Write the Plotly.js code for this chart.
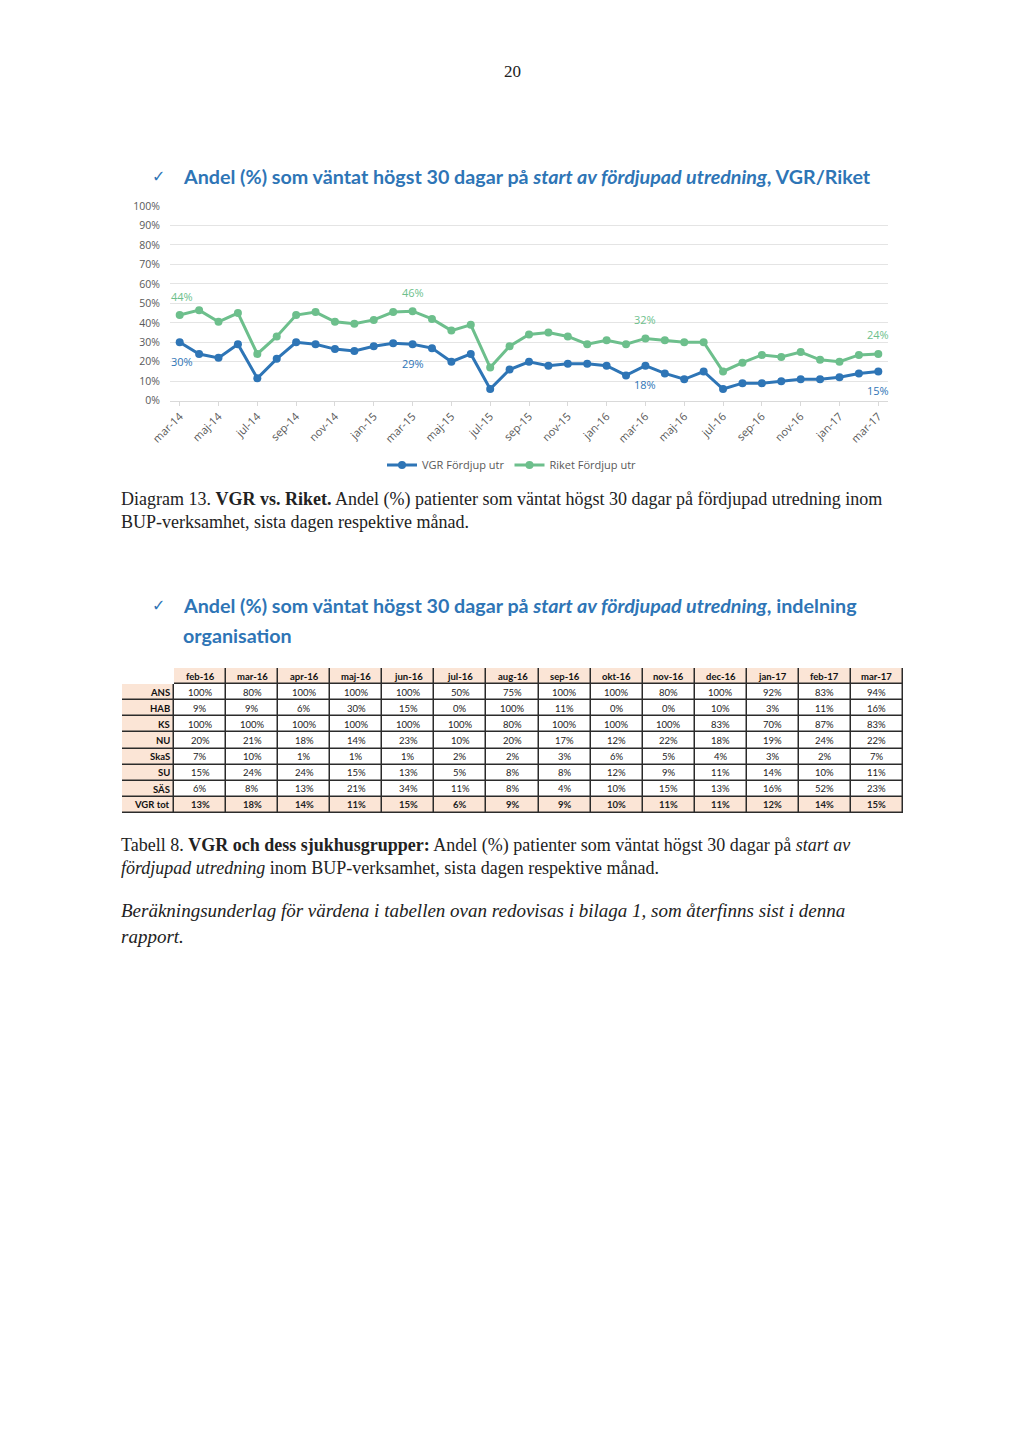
<!DOCTYPE html>
<html>
<head>
<meta charset="utf-8">
<script src="https://cdn.plot.ly/plotly-3.0.1.min.js"></script>
<style>
  html, body { margin: 0; padding: 0; background: #ffffff; }
  #chart { width: 1024px; height: 1448px; }
</style>
</head>
<body>
<div id="chart"></div>
<script>
// ---------- Data ----------
const months = [
  'mar-14','apr-14','maj-14','jun-14','jul-14','aug-14','sep-14','okt-14','nov-14','dec-14',
  'jan-15','feb-15','mar-15','apr-15','maj-15','jun-15','jul-15','aug-15','sep-15','okt-15',
  'nov-15','dec-15','jan-16','feb-16','mar-16','apr-16','maj-16','jun-16','jul-16','aug-16',
  'sep-16','okt-16','nov-16','dec-16','jan-17','feb-17','mar-17'
];
const vgrFordjup = [
  30, 24, 22, 29, 11.5, 21.5, 30, 29, 26.5, 25.5,
  28, 29.5, 29, 27, 20, 24, 6, 16, 20, 18,
  19, 19, 18, 13, 18, 14, 11, 15, 6, 9,
  9, 10, 11, 11, 12, 14, 15
];
const riketFordjup = [
  44, 46.5, 40.5, 45, 24, 33, 44, 45.5, 40.5, 39.5,
  41.5, 45.5, 46, 42, 36, 39, 17, 28, 34, 35,
  33, 29, 31, 29, 32, 31, 30, 30, 15, 19.5,
  23.5, 22.5, 25, 21, 20, 23.5, 24
];
// indices of months that carry a data label
const labelIdx = [0, 12, 24, 36];
const vgrLabels = ['30%', '29%', '18%', '15%'];
const riketLabels = ['44%', '46%', '32%', '24%'];
const yTicks = [0, 10, 20, 30, 40, 50, 60, 70, 80, 90, 100];
const xTickLabels = months.filter((m, i) => i % 2 === 0);

// Table
const tableMonths = ['feb-16','mar-16','apr-16','maj-16','jun-16','jul-16','aug-16','sep-16','okt-16','nov-16','dec-16','jan-17','feb-17','mar-17'];
const tableRows = ['ANS','HAB','KS','NU','SkaS','SU','SÄS','VGR tot'];
const rowANS  = [100, 80, 100, 100, 100, 50, 75, 100, 100, 80, 100, 92, 83, 94];
const rowHAB  = [9, 9, 6, 30, 15, 0, 100, 11, 0, 0, 10, 3, 11, 16];
const rowKS   = [100, 100, 100, 100, 100, 100, 80, 100, 100, 100, 83, 70, 87, 83];
const rowNU   = [20, 21, 18, 14, 23, 10, 20, 17, 12, 22, 18, 19, 24, 22];
const rowSkaS = [7, 10, 1, 1, 1, 2, 2, 3, 6, 5, 4, 3, 2, 7];
const rowSU   = [15, 24, 24, 15, 13, 5, 8, 8, 12, 9, 11, 14, 10, 11];
const rowSAS  = [6, 8, 13, 21, 34, 11, 8, 4, 10, 15, 13, 16, 52, 23];
const rowVGR  = [13, 18, 14, 11, 15, 6, 9, 9, 10, 11, 11, 12, 14, 15];

// ---------- Helpers ----------
const W = 1024, H = 1448;
const px = x => x / W;
const py = y => 1 - y / H;

const BLUE = '#2E75B6';
const GREEN = '#6DBF8C';
const HEAD = '#2E75B6';
const PEACH = '#FBE5D6';
const BORDER = '#2b2b2b';

const traces = [
  {
    type: 'scatter', mode: 'lines+markers', name: 'VGR Fördjup utr',
    x: months, y: vgrFordjup,
    line: { color: BLUE, width: 3 },
    marker: { color: BLUE, size: 8 },
    xaxis: 'x', yaxis: 'y', hoverinfo: 'x+y'
  },
  {
    type: 'scatter', mode: 'lines+markers', name: 'Riket Fördjup utr',
    x: months, y: riketFordjup,
    line: { color: GREEN, width: 3 },
    marker: { color: GREEN, size: 8 },
    xaxis: 'x', yaxis: 'y', hoverinfo: 'x+y'
  }
];

// ---------- Table drawn as heatmap grid on x2/y2 ----------
const dataRows = [rowANS, rowHAB, rowKS, rowNU, rowSkaS, rowSU, rowSAS, rowVGR];
const colKeys = ['_rad'].concat(tableMonths);
const rowKeys = ['_hdr'].concat(tableRows);
// border layer (dark), no border for top-left empty cell
const zBorder = rowKeys.map((r, i) => colKeys.map((c, j) => (i === 0 && j === 0) ? null : 1));
// fill layer: 0 white, 1 peach
const zFill = rowKeys.map((r, i) => colKeys.map((c, j) => {
  if (i === 0) return j === 0 ? 0 : 1;
  if (j === 0) return 1;
  return i === rowKeys.length - 1 ? 1 : 0;
}));
traces.push({
  type: 'heatmap', x: colKeys, y: rowKeys, z: zBorder,
  colorscale: [[0, BORDER], [1, BORDER]], zmin: 0, zmax: 1, showscale: false,
  xaxis: 'x2', yaxis: 'y2', hoverinfo: 'skip'
});
traces.push({
  type: 'heatmap', x: colKeys, y: rowKeys, z: zFill,
  colorscale: [[0, '#ffffff'], [0.5, '#ffffff'], [0.5, PEACH], [1, PEACH]],
  zmin: 0, zmax: 1, showscale: false, xgap: 1.5, ygap: 1.5,
  xaxis: 'x2', yaxis: 'y2', hoverinfo: 'skip'
});

// ---------- Annotations ----------
const serif = 'Liberation Serif, DejaVu Serif, serif';
const sans = 'Lato, Open Sans, sans-serif';
const tfont = 'Lato, Open Sans, sans-serif';
const annotations = [];
function txt(x, y, text, size, family, color, extra) {
  annotations.push(Object.assign({
    xref: 'paper', yref: 'paper', x: px(x), y: py(y), text: text,
    showarrow: false, xanchor: 'left', yanchor: 'middle', borderpad: 0,
    font: { family: family, size: size, color: color }
  }, extra || {}));
}
// page number
txt(512, 72, '20', 17, serif, '#222222', { xanchor: 'center' });
// chart heading
txt(151, 176, '✓', 16, 'DejaVu Sans, sans-serif', HEAD);
txt(182, 176, '<b>Andel (%) som väntat högst 30 dagar på <i>start av fördjupad utredning</i>, VGR/Riket</b>', 19.7, sans, HEAD);
// caption diagram
txt(120, 499, 'Diagram 13. <b>VGR vs. Riket.</b> Andel (%) patienter som väntat högst 30 dagar på fördjupad utredning inom', 18, serif, '#222222');
txt(120, 522, 'BUP-verksamhet, sista dagen respektive månad.', 18, serif, '#222222');
// second heading
txt(151, 606, '✓', 16, 'DejaVu Sans, sans-serif', HEAD);
txt(182, 606, '<b>Andel (%) som väntat högst 30 dagar på <i>start av fördjupad utredning</i>, indelning</b>', 19.7, sans, HEAD);
txt(182, 635, '<b>organisation</b>', 19.7, sans, HEAD);
// table caption
txt(120, 845, 'Tabell 8. <b>VGR och dess sjukhusgrupper:</b> Andel (%) patienter som väntat högst 30 dagar på <i>start av</i>', 18, serif, '#222222');
txt(120, 868, '<i>fördjupad utredning</i> inom BUP-verksamhet, sista dagen respektive månad.', 18, serif, '#222222');
txt(120, 910, '<i>Beräkningsunderlag för värdena i tabellen ovan redovisas i bilaga 1, som återfinns sist i denna</i>', 19, serif, '#222222');
txt(120, 936, '<i>rapport.</i>', 19, serif, '#222222');

// chart data labels
labelIdx.forEach((idx, k) => {
  annotations.push({
    xref: 'x', yref: 'y', x: months[idx], y: riketFordjup[idx], text: riketLabels[k],
    showarrow: false, yshift: 19, xshift: k === 0 ? 2 : 0,
    font: { family: 'Open Sans, sans-serif', size: 11, color: GREEN }
  });
  annotations.push({
    xref: 'x', yref: 'y', x: months[idx], y: vgrFordjup[idx], text: vgrLabels[k],
    showarrow: false, yshift: -19, xshift: k === 0 ? 2 : 0,
    font: { family: 'Open Sans, sans-serif', size: 11, color: BLUE }
  });
});

// table texts
tableMonths.forEach(m => {
  annotations.push({
    xref: 'x2', yref: 'y2', x: m, y: '_hdr', text: '<b>' + m + '</b>',
    showarrow: false, font: { family: tfont, size: 9.5, color: '#111111' }
  });
});
tableRows.forEach((r, i) => {
  const bold = i === tableRows.length - 1;
  annotations.push({
    xref: 'x2', yref: 'y2', x: '_rad', y: r, text: '<b>' + r + '</b>',
    showarrow: false, xanchor: 'right', xshift: 24,
    font: { family: tfont, size: 9.5, color: '#111111' }
  });
  dataRows[i].forEach((v, j) => {
    const t = v + '%';
    annotations.push({
      xref: 'x2', yref: 'y2', x: tableMonths[j], y: r, text: bold ? '<b>' + t + '</b>' : t,
      showarrow: false, font: { family: tfont, size: 9.5, color: '#222222' }
    });
  });
});

const layout = {
  width: W, height: H,
  margin: { l: 0, r: 0, t: 0, b: 0 },
  paper_bgcolor: '#ffffff', plot_bgcolor: '#ffffff',
  showlegend: true,
  legend: {
    orientation: 'h', x: 0.5, xanchor: 'center', y: py(465), yanchor: 'middle',
    font: { family: 'Open Sans, sans-serif', size: 11, color: '#595959' },
    itemwidth: 30, tracegroupgap: 0
  },
  xaxis: {
    domain: [px(170), px(888)],
    type: 'category',
    range: [-0.5, 36.5],
    tickmode: 'array', tickvals: xTickLabels, ticktext: xTickLabels,
    tickangle: -45,
    tickfont: { family: 'Open Sans, sans-serif', size: 11, color: '#595959' },
    ticks: 'outside', ticklen: 4, tickcolor: '#d9d9d9',
    showline: true, linecolor: '#d9d9d9', linewidth: 1,
    showgrid: false, zeroline: false, fixedrange: true
  },
  yaxis: {
    domain: [py(400.7), py(206)],
    range: [0, 100],
    tickmode: 'array', tickvals: yTicks, ticktext: yTicks.map(v => v + '%'),
    tickfont: { family: 'Open Sans, sans-serif', size: 10.5, color: '#595959' },
    showgrid: true, gridcolor: '#e4e4e4', gridwidth: 1,
    zeroline: false, showline: false, ticks: '', ticklabelstandoff: 9,
    fixedrange: true
  },
  xaxis2: {
    domain: [px(122), px(903)], anchor: 'y2', type: 'category',
    categoryorder: 'array', categoryarray: colKeys,
    showticklabels: false, showgrid: false, zeroline: false, showline: false, ticks: '',
    fixedrange: true
  },
  yaxis2: {
    domain: [py(813), py(668)], anchor: 'x2', type: 'category',
    categoryorder: 'array', categoryarray: rowKeys, autorange: 'reversed',
    showticklabels: false, showgrid: false, zeroline: false, showline: false, ticks: '',
    fixedrange: true
  },
  annotations: annotations
};

Plotly.newPlot('chart', traces, layout, { displayModeBar: false, staticPlot: true });
</script>
</body>
</html>
